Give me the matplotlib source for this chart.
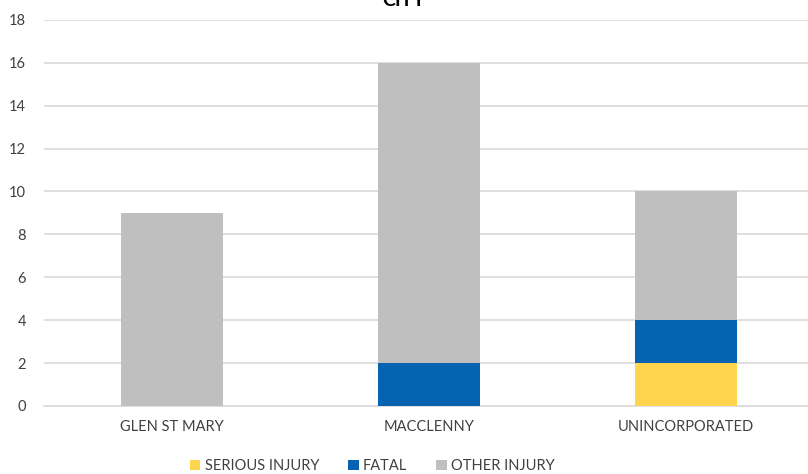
import matplotlib.pyplot as plt
import numpy as np

plt.rcParams['font.family'] = ['Lato', 'DejaVu Sans']

# datos
ciudades = ['GLEN ST MARY', 'MACCLENNY', 'UNINCORPORATED']
serious_injury = [0, 0, 2]
fatal = [0, 2, 2]
other_injury = [9, 14, 6]

colores = {'SERIOUS INJURY': '#FFD54F', 'FATAL': '#0563B1', 'OTHER INJURY': '#BFBFBF'}

fig = plt.figure(figsize=(8.08, 4.74), dpi=100)
ax = fig.add_axes([0.0545, 0.1435, 0.9455, 0.8145])

x = np.arange(len(ciudades))
ancho = 0.397
base = np.zeros(len(ciudades))
for nombre, valores in [('SERIOUS INJURY', serious_injury),
                        ('FATAL', fatal),
                        ('OTHER INJURY', other_injury)]:
    ax.bar(x, valores, ancho, bottom=base, color=colores[nombre], label=nombre, zorder=2)
    base += np.array(valores)

ax.set_xlim(-0.498, 2.475)
ax.set_ylim(0, 18)
ax.set_yticks(range(0, 19, 2))
ax.set_xticks(x)
ax.set_xticklabels(ciudades)
ax.grid(axis='y', color='#D9D9D9', linewidth=1.2, zorder=0)
ax.set_axisbelow(True)
for s in ax.spines.values():
    s.set_visible(False)
ax.tick_params(length=0, labelsize=10.5, colors='#404040')
ax.tick_params(axis='y', pad=13)
ax.tick_params(axis='x', pad=10)
ax.axhline(0, color='#D9D9D9', linewidth=1.2, zorder=1, clip_on=False)

# el título queda cortado arriba, igual que en el original
fig.text(0.5, 0.998, 'CITY', ha='center', va='center', fontsize=14,
         fontweight='bold', color='#000000')

leg = fig.legend(loc='center', bbox_to_anchor=(0.461, 0.017), ncol=3, frameon=False,
                 fontsize=10.5, handlelength=0.7, handleheight=0.7, handletextpad=0.3,
                 columnspacing=2.0)
for t in leg.get_texts():
    t.set_color('#404040')

fig.savefig('out.png', dpi=100)
